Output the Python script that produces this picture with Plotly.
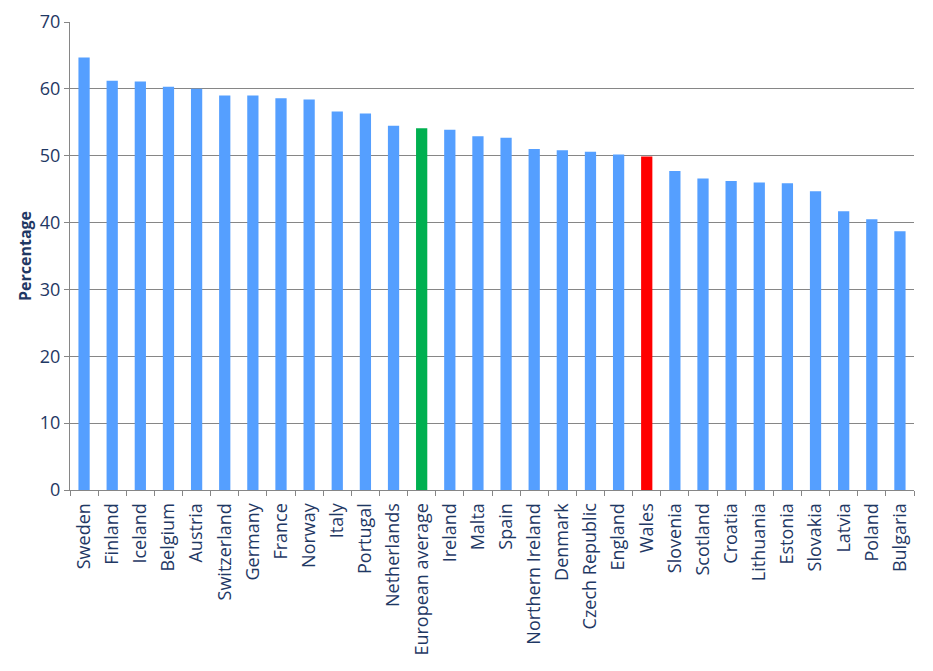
import plotly.graph_objects as go

countries = ["Sweden", "Finland", "Iceland", "Belgium", "Austria", "Switzerland", "Germany",
             "France", "Norway", "Italy", "Portugal", "Netherlands", "European average",
             "Ireland", "Malta", "Spain", "Northern Ireland", "Denmark", "Czech Republic",
             "England", "Wales", "Slovenia", "Scotland", "Croatia", "Lithuania", "Estonia",
             "Slovakia", "Latvia", "Poland", "Bulgaria"]
values = [64.7, 61.2, 61.1, 60.3, 60.0, 59.0, 59.0, 58.6, 58.4, 56.6, 56.3, 54.5, 54.1,
          53.9, 52.9, 52.7, 51.0, 50.8, 50.6, 50.2, 49.9, 47.7, 46.6, 46.2, 46.0, 45.9,
          44.7, 41.7, 40.5, 38.7]
y_ticks = [0, 10, 20, 30, 40, 50, 60, 70]

highlight = {"European average": "#00B050", "Wales": "#FF0000"}
colors = [highlight.get(c, "#559FFF") for c in countries]

navy = "#1F3864"
fig = go.Figure(go.Bar(x=countries, y=values, marker=dict(color=colors, line_width=0)))
fig.update_layout(
    width=933, height=671,
    margin=dict(l=70, r=19, t=22, b=181, autoexpand=False),
    plot_bgcolor="white", paper_bgcolor="white",
    bargap=0.6, showlegend=False,
    font=dict(family="Open Sans", color=navy),
)
fig.update_xaxes(
    type="category", tickangle=-90, tickfont=dict(size=18, color=navy),
    showline=True, linecolor="#868686", linewidth=1,
    ticks="outside", tickson="boundaries", ticklen=5, tickcolor="#868686",
    ticklabelstandoff=5, showgrid=False, automargin=False,
)
fig.update_yaxes(
    range=[0, 70], tickvals=y_ticks, tickfont=dict(size=18, color=navy),
    showline=True, linecolor="#868686", linewidth=1,
    ticks="outside", ticklen=5, tickcolor="#868686",
    showgrid=True, gridcolor="#868686", gridwidth=1, zeroline=False, automargin=False,
    title=dict(text="<b>Percentage</b>", font=dict(size=16, color=navy), standoff=4),
)
fig.write_html("out.html")
